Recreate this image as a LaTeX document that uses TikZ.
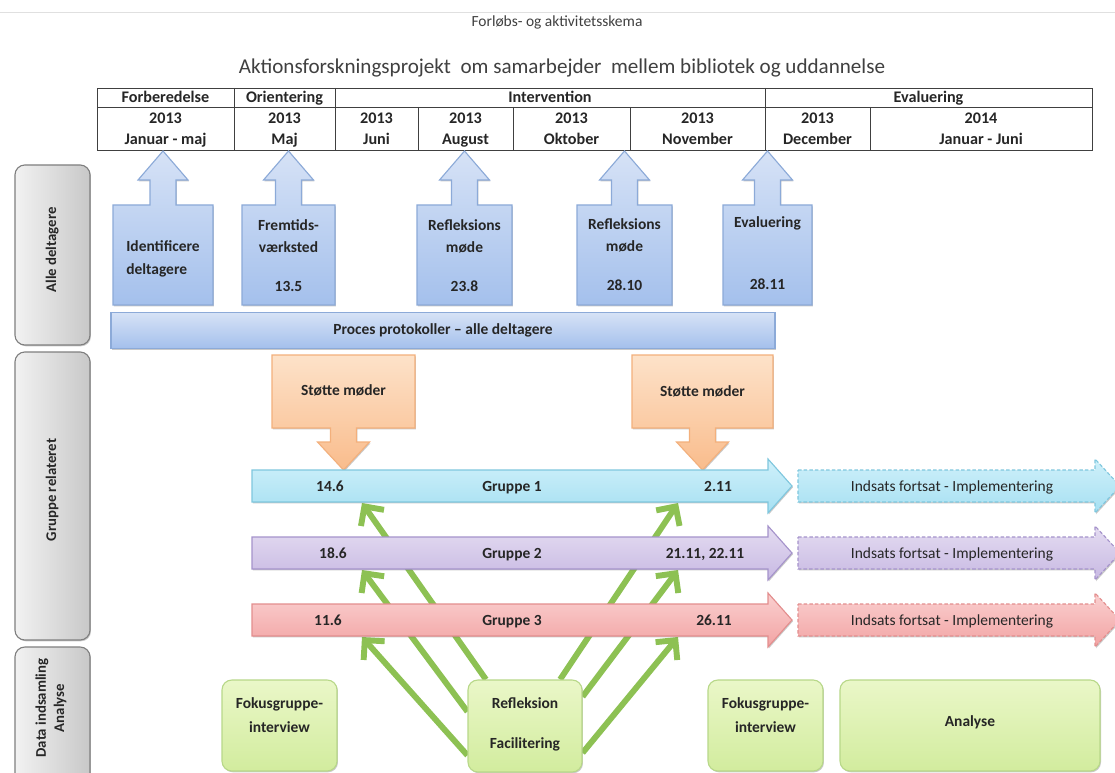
\documentclass[tikz,border=0pt]{standalone}
\usepackage{fontspec}
\setmainfont{Carlito}
\usetikzlibrary{arrows.meta,backgrounds,shadows}

\definecolor{inkc}{HTML}{262626}
\definecolor{titlec}{HTML}{404040}
\definecolor{blueA}{HTML}{D6E2F6}
\definecolor{blueB}{HTML}{A4C0EC}
\definecolor{blueL}{HTML}{8CAAD8}
\definecolor{orA}{HTML}{FDE2C9}
\definecolor{orB}{HTML}{F9BC8C}
\definecolor{orL}{HTML}{F3B07C}
\definecolor{cyA}{HTML}{CFF0FA}
\definecolor{cyB}{HTML}{A6E0F2}
\definecolor{cyL}{HTML}{7FC7DE}
\definecolor{puA}{HTML}{E4DCF1}
\definecolor{puB}{HTML}{C8B9E3}
\definecolor{puL}{HTML}{A593CB}
\definecolor{rdA}{HTML}{FAD0D0}
\definecolor{rdB}{HTML}{F2A3A3}
\definecolor{rdL}{HTML}{E38E8E}
\definecolor{grA}{HTML}{EAF7C8}
\definecolor{grB}{HTML}{D2EC9E}
\definecolor{grL}{HTML}{B8D889}
\definecolor{grArrow}{HTML}{8DC153}
\definecolor{gyA}{HTML}{F2F2F2}
\definecolor{gyB}{HTML}{C8C8C8}
\definecolor{gyL}{HTML}{7F7F7F}

\newcommand{\px}{0.025cm}

\begin{document}
\begin{tikzpicture}[x=\px,y=-\px]
    \tikzset{
    struts/.style={execute at begin node=\strut, execute at end node=\strut},
    hcell/.style={font=\bfseries\fontsize{11.5}{15}\selectfont, text=inkc, align=center, struts},
    tabline/.style={draw=black!75, line width=0.7pt},
    lift/.style={drop shadow={shadow xshift=0.7pt, shadow yshift=-0.9pt, opacity=0.35, fill=black!60}},
    upbox/.style={top color=blueA, bottom color=blueB, draw=blueL, line width=0.8pt, lift},
    downbox/.style={top color=orA, bottom color=orB, draw=orL, line width=0.8pt, lift},
    boxtext/.style={font=\bfseries\fontsize{11}{16}\selectfont, text=inkc, align=center, struts},
    grp/.style={line width=0.8pt, lift},
    grptext/.style={font=\bfseries\fontsize{11}{13}\selectfont, text=inkc, struts},
    conttext/.style={font=\fontsize{11}{13}\selectfont, text=inkc, struts},
    sidebox/.style={rounded corners=7pt, left color=gyA, right color=gyB, draw=gyL, line width=0.8pt, lift},
    sidetext/.style={font=\bfseries\fontsize{10.5}{13}\selectfont, rotate=90, align=center, text=inkc, struts},
    greenbox/.style={rounded corners=7pt, top color=grA, bottom color=grB, draw=grL, line width=0.8pt, lift, inner sep=0pt},
    feed/.style={draw=grArrow, line width=4.2pt, -{Straight Barb[length=10pt,width=20pt]}},
    }
    \useasboundingbox (0,0) rectangle (1115,773);
    \begin{scope}[on background layer]
        \fill[white] (0,0) rectangle (1115,773);
    \end{scope}
    \draw[black!12] (0,12) -- (1115,12);

    % titles
    \node[font=\fontsize{11}{13}\selectfont, text=titlec] (title) at (557,22) {Forløbs- og aktivitetsskema};
    \node[font=\fontsize{15}{18}\selectfont, text=titlec] (project) at (562,68) {Aktionsforskningsprojekt\ \ om samarbejder\ \ mellem bibliotek og uddannelse};

    % time table
    \draw[tabline] (97,88) rectangle (1092,150);
    \draw[tabline] (97,107) -- (1092,107);
    \foreach \x in {234,335,765} \draw[tabline] (\x,88) -- (\x,150);
    \foreach \x in {418,513,630,870} \draw[tabline] (\x,107) -- (\x,150);
    \node[hcell] (forb) at (165.5,98) {Forberedelse};
    \node[hcell] (orie) at (284.5,98) {Orientering};
    \node[hcell] (inte) at (550,98) {Intervention};
    \node[hcell] (eval) at (928.5,98) {Evaluering};
    \foreach \x/\n/\yr/\m in {165.5/cjan/2013/Januar - maj, 284.5/cmaj/2013/Maj, 376.5/cjun/2013/Juni,
        465.5/caug/2013/August, 571.5/cokt/2013/Oktober, 697.5/cnov/2013/November,
        817.5/cdec/2013/December, 981/cjun14/2014/Januar - Juni}
        \node[hcell] (\n) at (\x,131.5) {\yr\\\m};

    % side labels
    \draw[sidebox] (15,165) rectangle (90,345);
    \draw[sidebox] (15,352) rectangle (90,640);
    \draw[sidebox] (15,647) rectangle (90,790);
    \node[sidetext] (alle) at (52.5,250) {Alle deltagere};
    \node[sidetext] (grel) at (52.5,490) {Gruppe relateret};
    \node[sidetext] (data) at (52.5,708) {Data indsamling\\Analyse};

    % activities for all participants
    \foreach \lx/\rx in {113/213, 242/335, 417/512, 577/672, 723/812}{
        \pgfmathsetmacro\cx{(\lx+\rx)/2}
        \path[upbox] (\lx,205) -- (\cx-13,205) -- (\cx-13,180) -- (\cx-25,180) -- (\cx,151)
            -- (\cx+25,180) -- (\cx+13,180) -- (\cx+13,205) -- (\rx,205) -- (\rx,305) -- (\lx,305) -- cycle;
    }
    \node[boxtext, align=left] (ident) at (163,261) {Identificere\\deltagere};
    \node[boxtext] (fremt) at (288.5,259) {Fremtids-\\værksted\\[12pt]13.5};
    \node[boxtext] (refl1) at (464.5,259) {Refleksions\\møde\\[12pt]23.8};
    \node[boxtext] (refl2) at (624.5,258) {Refleksions\\møde\\[12pt]28.10};
    \node[boxtext] (evalm) at (767.5,256.5) {Evaluering\\[28pt]28.11};

    \node[upbox, minimum width=664*\px, minimum height=36*\px, inner sep=0pt,
        font=\bfseries\fontsize{11}{13}\selectfont, text=inkc] (proc) at (443,330.5) {\strut Proces protokoller -- alle deltagere};

    % support meetings
    \foreach \lx/\rx in {272/415, 632/773}{
        \pgfmathsetmacro\cx{(\lx+\rx)/2}
        \path[downbox] (\lx,355) -- (\rx,355) -- (\rx,428) -- (\cx+13,428) -- (\cx+13,442) -- (\cx+26,442)
            -- (\cx,470) -- (\cx-26,442) -- (\cx-13,442) -- (\cx-13,428) -- (\lx,428) -- cycle;
    }
    \node[boxtext] (stot1) at (343.5,391) {Støtte møder};
    \node[boxtext] (stot2) at (702.5,392) {Støtte møder};

    % group arrows
    \foreach \yc/\ca/\cb/\cl in {486/cyA/cyB/cyL, 553/puA/puB/puL, 620/rdA/rdB/rdL}{
        \path[grp, top color=\ca, bottom color=\cb, draw=\cl] (252,\yc-16) -- (768,\yc-16) -- (768,\yc-27)
            -- (792,\yc) -- (768,\yc+27) -- (768,\yc+16) -- (252,\yc+16) -- cycle;
        \path[grp, top color=\ca, bottom color=\cb, draw=\cl, dash pattern=on 2.5pt off 1.5pt]
            (798,\yc-16) -- (1095,\yc-16) -- (1095,\yc-27) -- (1120,\yc) -- (1095,\yc+27) -- (1095,\yc+16) -- (798,\yc+16) -- cycle;
    }
    \node[grptext] (g1a) at (330,488) {14.6};
    \node[grptext] (g1) at (512,488) {Gruppe 1};
    \node[grptext] (g1b) at (718,488) {2.11};
    \node[grptext] (g2a) at (333,555) {18.6};
    \node[grptext] (g2) at (512,555) {Gruppe 2};
    \node[grptext] (g2b) at (705,555) {21.11, 22.11};
    \node[grptext] (g3a) at (328,622) {11.6};
    \node[grptext] (g3) at (512,622) {Gruppe 3};
    \node[grptext] (g3b) at (714,622) {26.11};
    \node[conttext] (c1) at (952,488) {Indsats fortsat - Implementering};
    \node[conttext] (c2) at (952,555) {Indsats fortsat - Implementering};
    \node[conttext] (c3) at (952,622) {Indsats fortsat - Implementering};

    % data collection
    \node[greenbox, minimum width=115*\px, minimum height=91*\px] (fok1) at (279.5,725.5) {};
    \node[greenbox, minimum width=114*\px, minimum height=92*\px] (refl) at (525,726) {};
    \node[greenbox, minimum width=115*\px, minimum height=91*\px] (fok2) at (765.5,725.5) {};
    \node[greenbox, minimum width=260*\px, minimum height=91*\px] (anal) at (970,725.5) {};
    \node[boxtext, font=\bfseries\fontsize{11}{17}\selectfont] (fok1t) at (279.5,719) {Fokusgruppe-\\interview};
    \node[boxtext] (reflt) at (525,726.5) {Refleksion\\[12pt]Facilitering};
    \node[boxtext, font=\bfseries\fontsize{11}{17}\selectfont] (fok2t) at (765.5,719) {Fokusgruppe-\\interview};
    \node[boxtext] (analt) at (970,722) {Analyse};

    \coordinate (t1) at (362,503);
    \coordinate (t2) at (362,570);
    \coordinate (t3) at (362,637);
    \coordinate (u1) at (678,503);
    \coordinate (u2) at (678,570);
    \coordinate (u3) at (678,637);
    \begin{scope}[on background layer]
        \draw[feed] (refl.130) -- (t1);
        \draw[feed] (refl.166) -- (t2);
        \draw[feed] (refl.207) -- (t3);
        \draw[feed] (refl.53) -- (u1);
        \draw[feed] (refl.27) -- (u2);
        \draw[feed] (refl.335) -- (u3);
    \end{scope}
\end{tikzpicture}
\end{document}
